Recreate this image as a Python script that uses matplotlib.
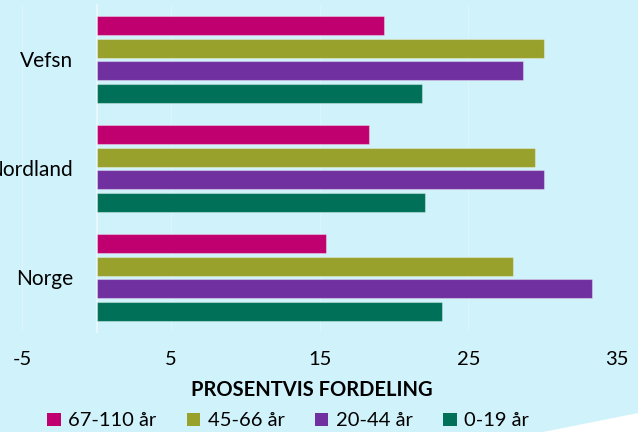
import matplotlib.pyplot as plt
import numpy as np
from matplotlib.patches import Patch, Polygon

# data
regions = ['Vefsn', 'Nordland', 'Norge']
age_groups = ['67-110 år', '45-66 år', '20-44 år', '0-19 år']
age_67_110 = [19.3, 18.3, 15.4]
age_45_66 = [30.1, 29.5, 28.0]
age_20_44 = [28.7, 30.1, 33.3]
age_0_19 = [21.9, 22.1, 23.2]
colors = ['#c0006e', '#97a12c', '#7030a0', '#007158']
x_ticks = [-5, 5, 15, 25, 35]

plt.rcParams['font.family'] = ['Lato', 'DejaVu Sans']

bg = '#d0f2fb'
fig = plt.figure(figsize=(6.38, 4.32), dpi=100, facecolor=bg)
fig.patches.append(Polygon([[543 / 638, 0], [1, 0], [1, 19 / 432]], closed=True,
                           transform=fig.transFigure, facecolor='white',
                           edgecolor='none', zorder=0))

ax = fig.add_axes([0.035, 0.2315, 0.932, 0.757])
ax.set_facecolor('none')

y = np.array([2, 1, 0])
step = 0.208
height = 0.172
series = [age_67_110, age_45_66, age_20_44, age_0_19]
offsets = [1.5 * step, 0.5 * step, -0.5 * step, -1.5 * step]
for vals, off, c in zip(series, offsets, colors):
    ax.barh(y + off, vals, height=height, color=c, edgecolor=(1, 1, 1, 0.35),
            linewidth=0.8, zorder=3)

ax.set_xlim(-5, 35)
ax.set_ylim(-0.5, 2.5)
ax.set_xticks(x_ticks)
ax.set_xticklabels([str(t) for t in x_ticks])
ax.set_yticks(y)
ax.set_yticklabels(regions)
ax.tick_params(axis='both', length=0, colors='black')
ax.tick_params(axis='x', pad=14, labelsize=14.5)
ax.tick_params(axis='y', pad=17, labelsize=15)
ax.grid(axis='x', color='#daf5fc', linewidth=1, zorder=0)

for s in ['top', 'right', 'bottom']:
    ax.spines[s].set_visible(False)
ax.spines['left'].set_position(('data', 0))
ax.spines['left'].set_color('#e6f8fd')
ax.spines['left'].set_linewidth(1.5)

fig.text(312 / 638, 1 - 390 / 432, 'PROSENTVIS FORDELING', ha='center', va='center',
         fontsize=14.5, fontweight='bold')

handles = [Patch(facecolor=c, edgecolor='none') for c in colors]
fig.legend(handles, age_groups, loc='center', bbox_to_anchor=(288 / 638, 1 - 421 / 432),
           ncol=4, frameon=False, fontsize=14.5, handlelength=0.68, handleheight=0.68,
           handletextpad=0.36, columnspacing=1.5, borderaxespad=0, borderpad=0)

fig.savefig('out.png', dpi=100, facecolor=bg)
